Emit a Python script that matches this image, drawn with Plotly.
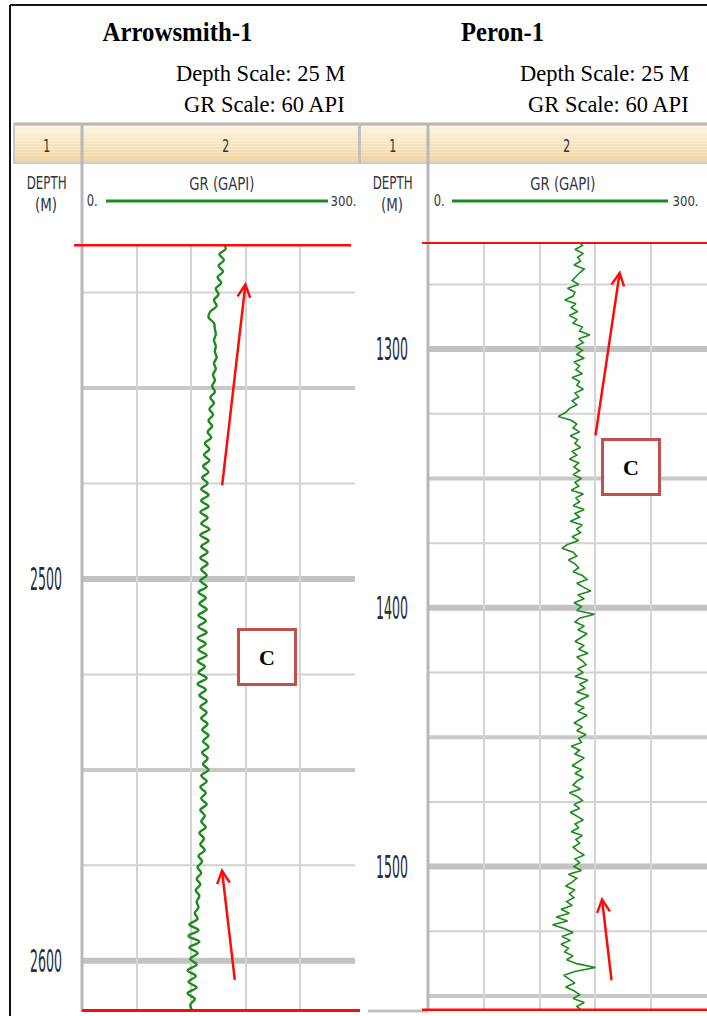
import json
import plotly.graph_objects as go

W, H = 707, 1016

# ---------------------------------------------------------------- data
gr_range = [0, 300]

arrowsmith_depth = [
    2412.0, 2413.5, 2415.0, 2416.5, 2418.0, 2419.5, 2421.0, 2422.5, 2424.0, 2425.5,
    2427.0, 2428.5, 2430.0, 2431.5, 2433.0, 2434.5, 2436.0, 2437.5, 2439.0, 2440.5,
    2442.0, 2443.5, 2445.0, 2446.5, 2448.0, 2449.5, 2451.0, 2452.5, 2454.0, 2455.5,
    2457.0, 2458.5, 2460.0, 2461.5, 2463.0, 2464.5, 2466.0, 2467.5, 2469.0, 2470.5,
    2472.0, 2473.5, 2475.0, 2476.5, 2478.0, 2479.5, 2481.0, 2482.5, 2484.0, 2485.5,
    2487.0, 2488.5, 2490.0, 2491.5, 2493.0, 2494.5, 2496.0, 2497.5, 2499.0, 2500.5,
    2502.0, 2503.5, 2505.0, 2506.5, 2508.0, 2509.5, 2511.0, 2512.5, 2514.0, 2515.5,
    2517.0, 2518.5, 2520.0, 2521.5, 2523.0, 2524.5, 2526.0, 2527.5, 2529.0, 2530.5,
    2532.0, 2533.5, 2535.0, 2536.5, 2538.0, 2539.5, 2541.0, 2542.5, 2544.0, 2545.5,
    2547.0, 2548.5, 2550.0, 2551.5, 2553.0, 2554.5, 2556.0, 2557.5, 2559.0, 2560.5,
    2562.0, 2563.5, 2565.0, 2566.5, 2568.0, 2569.5, 2571.0, 2572.5, 2574.0, 2575.5,
    2577.0, 2578.5, 2580.0, 2581.5, 2583.0, 2584.5, 2586.0, 2587.5, 2589.0, 2590.5,
    2592.0, 2593.5, 2595.0, 2596.5, 2598.0, 2599.5, 2601.0, 2602.5, 2604.0, 2605.5,
    2607.0, 2608.5, 2610.0, 2611.5, 2613.0,
]
arrowsmith_gr = [
    154, 158, 151, 156, 150, 155, 149, 153, 147, 150,
    145, 148, 141, 139, 145, 146, 147, 145, 147, 146,
    148, 145, 147, 144, 146, 143, 146, 141, 145, 140,
    144, 139, 143, 138, 142, 135, 140, 134, 140, 133,
    139, 132, 138, 131, 139, 131, 139, 130, 138, 131,
    140, 130, 139, 131, 138, 130, 138, 131, 137, 130,
    137, 128, 136, 129, 137, 128, 136, 128, 137, 127,
    136, 128, 137, 127, 135, 128, 137, 127, 136, 129,
    137, 130, 137, 131, 138, 132, 139, 133, 139, 132,
    138, 133, 139, 131, 137, 130, 136, 131, 137, 130,
    135, 131, 136, 129, 134, 130, 135, 128, 132, 127,
    131, 126, 130, 125, 129, 126, 128, 124, 127, 118,
    128, 117, 129, 118, 127, 119, 126, 116, 125, 117,
    126, 116, 124, 119, 121,
]

peron_depth = [
    1258.5, 1260.0, 1261.5, 1263.0, 1264.5, 1266.0, 1267.5, 1269.0, 1270.5, 1272.0,
    1273.5, 1275.0, 1276.5, 1278.0, 1279.5, 1281.0, 1282.5, 1284.0, 1285.5, 1287.0,
    1288.5, 1290.0, 1291.5, 1293.0, 1294.5, 1296.0, 1297.5, 1299.0, 1300.5, 1302.0,
    1303.5, 1305.0, 1306.5, 1308.0, 1309.5, 1311.0, 1312.5, 1314.0, 1315.5, 1317.0,
    1318.5, 1320.0, 1321.5, 1323.0, 1324.5, 1326.0, 1327.5, 1329.0, 1330.5, 1332.0,
    1333.5, 1335.0, 1336.5, 1338.0, 1339.5, 1341.0, 1342.5, 1344.0, 1345.5, 1347.0,
    1348.5, 1350.0, 1351.5, 1353.0, 1354.5, 1356.0, 1357.5, 1359.0, 1360.5, 1362.0,
    1363.5, 1365.0, 1366.5, 1368.0, 1369.5, 1371.0, 1372.5, 1374.0, 1375.5, 1377.0,
    1378.5, 1380.0, 1381.5, 1383.0, 1384.5, 1386.0, 1387.5, 1389.0, 1390.5, 1392.0,
    1393.5, 1395.0, 1396.5, 1398.0, 1399.5, 1401.0, 1402.5, 1404.0, 1405.5, 1407.0,
    1408.5, 1410.0, 1411.5, 1413.0, 1414.5, 1416.0, 1417.5, 1419.0, 1420.5, 1422.0,
    1423.5, 1425.0, 1426.5, 1428.0, 1429.5, 1431.0, 1432.5, 1434.0, 1435.5, 1437.0,
    1438.5, 1440.0, 1441.5, 1443.0, 1444.5, 1446.0, 1447.5, 1449.0, 1450.5, 1452.0,
    1453.5, 1455.0, 1456.5, 1458.0, 1459.5, 1461.0, 1462.5, 1464.0, 1465.5, 1467.0,
    1468.5, 1470.0, 1471.5, 1473.0, 1474.5, 1476.0, 1477.5, 1479.0, 1480.5, 1482.0,
    1483.5, 1485.0, 1486.5, 1488.0, 1489.5, 1491.0, 1492.5, 1494.0, 1495.5, 1497.0,
    1498.5, 1500.0, 1501.5, 1503.0, 1504.5, 1506.0, 1507.5, 1509.0, 1510.5, 1512.0,
    1513.5, 1515.0, 1516.5, 1518.0, 1519.5, 1521.0, 1522.5, 1524.0, 1525.5, 1527.0,
    1528.5, 1530.0, 1531.5, 1533.0, 1534.5, 1536.0, 1537.5, 1539.0, 1540.5, 1542.0,
    1543.5, 1545.0, 1546.5, 1548.0, 1549.5, 1551.0, 1552.5, 1554.0, 1555.5, 1557.0,
]
peron_gr = [
    162, 166, 158, 167, 161, 164, 157, 168, 163, 159,
    155, 162, 150, 158, 156, 147, 159, 154, 161, 152,
    160, 156, 166, 163, 174, 162, 167, 159, 166, 160,
    168, 157, 163, 159, 166, 155, 163, 160, 167, 158,
    162, 155, 160, 152, 148, 140, 154, 160, 156, 163,
    153, 161, 158, 164, 155, 160, 152, 162, 157, 163,
    156, 165, 158, 162, 154, 167, 159, 163, 156, 168,
    158, 163, 153, 166, 160, 164, 155, 162, 150, 144,
    156, 160, 151, 158, 162, 156, 166, 171, 160, 167,
    175, 161, 168, 157, 165, 160, 179, 163, 158, 168,
    161, 171, 164, 158, 168, 162, 172, 160, 166, 170,
    161, 167, 158, 172, 163, 169, 160, 173, 164, 158,
    168, 161, 171, 164, 157, 166, 160, 170, 162, 165,
    154, 163, 158, 168, 161, 155, 165, 158, 167, 160,
    156, 164, 152, 161, 166, 157, 163, 153, 160, 167,
    158, 162, 154, 166, 159, 163, 156, 161, 168, 158,
    163, 157, 165, 151, 160, 155, 148, 158, 152, 157,
    149, 155, 143, 152, 138, 150, 134, 147, 156, 144,
    153, 143, 151, 147, 156, 149, 160, 180, 158, 146,
    152, 158, 148, 157, 163, 156, 168, 160, 165, 162,
]

# depth window shown in each track (top, bottom)
arrowsmith_window = [2412.3, 2613.4]
peron_window = [1258.6, 1555.8]

# labelled depths and 25 m grid depths
arrowsmith_labels = [2500, 2600]
peron_labels = [1300, 1400, 1500]
arrowsmith_grid = [2425, 2450, 2475, 2500, 2525, 2550, 2575, 2600]
peron_grid = [1275, 1300, 1325, 1350, 1375, 1400, 1425, 1450, 1475, 1500, 1525, 1550]

assert len(arrowsmith_depth) == len(arrowsmith_gr)
assert len(peron_depth) == len(peron_gr)

# ---------------------------------------------------------------- helpers
def px(x):
    return x / W


def py(y):
    return 1 - y / H


GREEN = "#1d8a1d"
RED = "#ff0a0a"
GRID = "#d4d4d4"
SERIF = "Liberation Serif, Times New Roman, serif"
SANS = "DejaVu Sans, Tahoma, sans-serif"

# rendered width (px) of each tall, narrow label
label_widths = {
    "Arrowsmith-1": 150, "Peron-1": 83,
    "DEPTH": 40, "(M)": 22, "GR (GAPI)": 65, "1": 7, "2": 7,
    "0.": 11, "300.": 26,
}
for v in arrowsmith_labels + peron_labels:
    label_widths[str(v)] = 32

fig = go.Figure()

fig.add_trace(go.Scatter(
    x=arrowsmith_gr, y=arrowsmith_depth, mode="lines",
    line=dict(color=GREEN, width=2.4, shape="spline", smoothing=1.0),
    xaxis="x", yaxis="y", hoverinfo="skip", showlegend=False,
))
fig.add_trace(go.Scatter(
    x=peron_gr, y=peron_depth, mode="lines",
    line=dict(color=GREEN, width=1.6),
    xaxis="x2", yaxis="y2", hoverinfo="skip", showlegend=False,
))

x_common = dict(range=gr_range, tick0=0, dtick=60, showgrid=True, gridcolor=GRID,
                gridwidth=2, zeroline=False, showline=False, showticklabels=False,
                ticks="", fixedrange=True, automargin=False)
y_common = dict(tickmode="array", showgrid=False, zeroline=False, showline=False,
                ticks="", ticklabelstandoff=19, fixedrange=True, automargin=False,
                tickfont=dict(family=SANS, size=32, color="#2a2a38"))

fig.update_layout(
    width=W, height=H, margin=dict(l=0, r=0, t=0, b=0, autoexpand=False),
    paper_bgcolor="white", plot_bgcolor="white", showlegend=False,
    xaxis=dict(domain=[px(82), px(355)], anchor="y", **x_common),
    xaxis2=dict(domain=[px(428), px(707)], anchor="y2", **x_common),
    yaxis=dict(domain=[py(1012), py(244)], anchor="x",
               range=[arrowsmith_window[1], arrowsmith_window[0]],
               tickvals=arrowsmith_labels, ticktext=[str(v) for v in arrowsmith_labels],
               **y_common),
    yaxis2=dict(domain=[py(1011), py(242)], anchor="x2",
                range=[peron_window[1], peron_window[0]],
                tickvals=peron_labels, ticktext=[str(v) for v in peron_labels],
                **y_common),
)

shapes = []
annotations = []


def hline(x0, x1, y, color, width, layer="above"):
    shapes.append(dict(type="line", xref="paper", yref="paper", x0=px(x0), x1=px(x1),
                       y0=py(y), y1=py(y), line=dict(color=color, width=width), layer=layer))


def vline(x, y0, y1, color, width, layer="above"):
    shapes.append(dict(type="line", xref="paper", yref="paper", x0=px(x), x1=px(x),
                       y0=py(y0), y1=py(y1), line=dict(color=color, width=width), layer=layer))


def text(x, y, s, size, family, color="black", weight="normal", xanchor="center"):
    annotations.append(dict(xref="paper", yref="paper", x=px(x), y=py(y), text=s,
                            showarrow=False, xanchor=xanchor, yanchor="middle",
                            font=dict(size=size, family=family, color=color, weight=weight)))


# ---- track header band (gradient made of thin strips)
top_c = (253, 243, 225)
bot_c = (242, 214, 163)
n_strips = 12
band_top, band_bot = 125, 162
for i in range(n_strips):
    t = i / (n_strips - 1)
    c = tuple(round(a + (b - a) * t) for a, b in zip(top_c, bot_c))
    y0 = band_top + (band_bot - band_top) * i / n_strips
    y1 = band_top + (band_bot - band_top) * (i + 1) / n_strips
    for xa, xb in [(13, 358), (361, 707)]:
        shapes.append(dict(type="rect", xref="paper", yref="paper", x0=px(xa), x1=px(xb),
                           y0=py(y1), y1=py(y0), line=dict(width=0),
                           fillcolor="rgb(%d,%d,%d)" % c, layer="below"))

hline(13, 707, 124, "#b5b5b5", 3)
hline(13, 707, 163, "#cdcdcd", 2)
vline(14, 123, 163, "#c8c8c8", 2)
vline(359.5, 123, 163, "#c0c0c0", 3)
vline(82, 123, 1012, "#b8b8b8", 3)
vline(428, 123, 1011, "#b8b8b8", 3)
hline(368, 428, 1011, "#c0c0c0", 3)

# ---- outer frame
vline(10, 5, 1016, "#111111", 2)
hline(10, 707, 5, "#111111", 2)


# ---- 25 m depth grid: heavier every 50 m and 100 m
def grid_style(d):
    if d % 100 == 0:
        return 6, "#c2c2c2"
    if d % 50 == 0:
        return 4, "#c8c8c8"
    return 2, "#d2d2d2"


for yref, depths in (("y", arrowsmith_grid), ("y2", peron_grid)):
    xref = "x domain" if yref == "y" else "x2 domain"
    for d in depths:
        w, c = grid_style(d)
        shapes.append(dict(type="line", xref=xref, yref=yref, x0=0, x1=1, y0=d, y1=d,
                           line=dict(color=c, width=w), layer="below"))

# ---- red interval markers at top and bottom of each track
for yref, (top, bot), (xt0, xt1), (xb0, xb1), (wt, wb) in (
    ("y", arrowsmith_window, (74, 351), (82, 360), (5, 6)),
    ("y2", peron_window, (422, 707), (422, 707), (4, 5)),
):
    shapes.append(dict(type="line", xref="paper", yref=yref, x0=px(xt0), x1=px(xt1),
                       y0=top, y1=top, line=dict(color=RED, width=wt)))
    shapes.append(dict(type="line", xref="paper", yref=yref, x0=px(xb0), x1=px(xb1),
                       y0=bot, y1=bot, line=dict(color=RED, width=wb)))

# ---- titles
text(177, 32, "Arrowsmith-1", 27, SERIF, weight="bold")
text(502, 32, "Peron-1", 27, SERIF, weight="bold")
for xr in (347, 691):
    text(xr, 74, "Depth Scale: 25 M", 22.5, SERIF, xanchor="right")
    text(xr, 104, "GR Scale: 60 API", 22.5, SERIF, xanchor="right")

# ---- track headers
HDR = "#333344"
for c1, c2, zero_c, line_x0, line_x1, max_c in (
    (46, 225, 91.5, 106, 328, 343),
    (392, 566, 438.5, 452, 668, 685),
):
    text(c1, 146, "1", 18, SANS, color="#333333")
    text(c2, 146, "2", 18, SANS, color="#333333")
    text(c1, 183, "DEPTH", 17, SANS, color=HDR)
    text(c1, 205, "(M)", 17, SANS, color=HDR)
    text(c2 - 3, 184, "GR (GAPI)", 17, SANS, color=HDR)
    text(zero_c, 201, "0.", 15, SANS, color=HDR)
    text(max_c, 201, "300.", 14, SANS, color=HDR)
    hline(line_x0, line_x1, 201, "#1d8a1d", 3)

# ---- interpretation arrows (head, tail) in GR / depth units
arrows = [
    ("x", "y", (179.9, 2422.2), (153.8, 2475.9)),
    ("x", "y", (153.5, 2575.7), (168.1, 2605.4)),
    ("x2", "y2", (206.5, 1269.5), (179.9, 1333.9)),
    ("x2", "y2", (186.8, 1511.6), (197.5, 1544.5)),
]
for xr, yr, (hx, hy), (tx, ty) in arrows:
    annotations.append(dict(xref=xr, yref=yr, axref=xr, ayref=yr, x=hx, y=hy, ax=tx, ay=ty,
                            text="", showarrow=True, arrowhead=5, arrowsize=1.0,
                            arrowwidth=2.5, arrowcolor=RED))

# ---- "C" boxes
for cx, cy in ((267, 657), (631, 467)):
    annotations.append(dict(xref="paper", yref="paper", x=px(cx), y=py(cy),
                            xanchor="center", yanchor="middle", text="<b>C</b>",
                            showarrow=False, font=dict(family=SERIF, size=22, color="black"),
                            bgcolor="white", bordercolor="#c0504d", borderwidth=3,
                            borderpad=0, width=54, height=52))

fig.update_layout(shapes=shapes, annotations=annotations)

# condense the log-style labels horizontally to their set widths
squeeze_js = """
var gd = document.getElementById('{plot_id}');
var widths = %s;
gd.querySelectorAll('text').forEach(function (t) {
    var s = t.textContent;
    if (Object.prototype.hasOwnProperty.call(widths, s)) {
        t.setAttribute('textLength', widths[s]);
        t.setAttribute('lengthAdjust', 'spacingAndGlyphs');
    }
});
""" % json.dumps(label_widths)

fig.write_html("out.html", post_script=squeeze_js)
